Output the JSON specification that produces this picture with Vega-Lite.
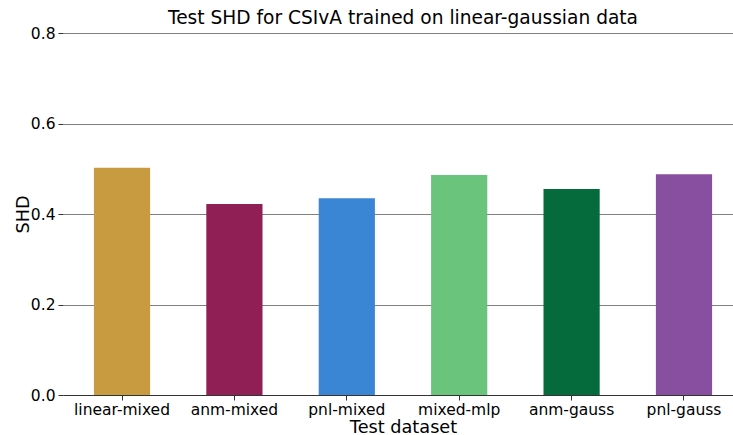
{
  "$schema": "https://vega.github.io/schema/vega-lite/v6.json",
  "autosize": {"type": "none"},
  "width": 670,
  "height": 362,
  "padding": {"left": 63, "top": 33, "right": 0, "bottom": 40},
  "background": "white",
  "title": {
    "text": "Test SHD for CSIvA trained on linear-gaussian data",
    "font": "DejaVu Sans",
    "fontSize": 18.6,
    "fontWeight": "normal",
    "color": "#000000",
    "anchor": "middle",
    "frame": "group",
    "offset": -2,
    "dx": 5
  },
  "config": {
    "view": {"stroke": null},
    "font": "DejaVu Sans"
  },
  "data": {
    "values": [
      {"dataset": "linear-mixed", "shd": 0.502, "color": "#c89b40"},
      {"dataset": "anm-mixed", "shd": 0.422, "color": "#8f1f54"},
      {"dataset": "pnl-mixed", "shd": 0.435, "color": "#3a86d4"},
      {"dataset": "mixed-mlp", "shd": 0.486, "color": "#6ac47c"},
      {"dataset": "anm-gauss", "shd": 0.455, "color": "#066b3c"},
      {"dataset": "pnl-gauss", "shd": 0.488, "color": "#884fa0"}
    ]
  },
  "mark": {"type": "bar"},
  "encoding": {
    "x": {
      "field": "dataset",
      "type": "nominal",
      "sort": null,
      "scale": {"range": [0, 680], "paddingInner": 0.5, "paddingOuter": 0.275},
      "axis": {
        "title": "Test dataset",
        "titleFont": "DejaVu Sans",
        "titleFontSize": 17.7,
        "titleFontWeight": "normal",
        "titleColor": "#000000",
        "titleBaseline": "alphabetic",
        "titleY": 37,
        "labelFont": "DejaVu Sans",
        "labelFontSize": 15.5,
        "labelColor": "#000000",
        "labelAngle": 0,
        "labelPadding": 2,
        "tickSize": 5,
        "tickColor": "#333333",
        "domainColor": "#333333",
        "domainWidth": 1,
        "grid": false
      }
    },
    "y": {
      "field": "shd",
      "type": "quantitative",
      "scale": {"domain": [0, 0.8], "nice": false},
      "axis": {
        "title": "SHD",
        "titleFont": "DejaVu Sans",
        "titleFontSize": 17.7,
        "titleFontWeight": "normal",
        "titleColor": "#000000",
        "titleBaseline": "alphabetic",
        "titleX": -35,
        "labelFont": "DejaVu Sans",
        "labelFontSize": 15.5,
        "labelColor": "#000000",
        "labelPadding": 3,
        "values": [0, 0.2, 0.4, 0.6, 0.8],
        "format": ".1f",
        "tickSize": 5,
        "tickColor": "#333333",
        "domain": false,
        "grid": true,
        "gridColor": "#808080",
        "gridWidth": 1
      }
    },
    "color": {"field": "color", "type": "nominal", "scale": null, "legend": null}
  }
}
